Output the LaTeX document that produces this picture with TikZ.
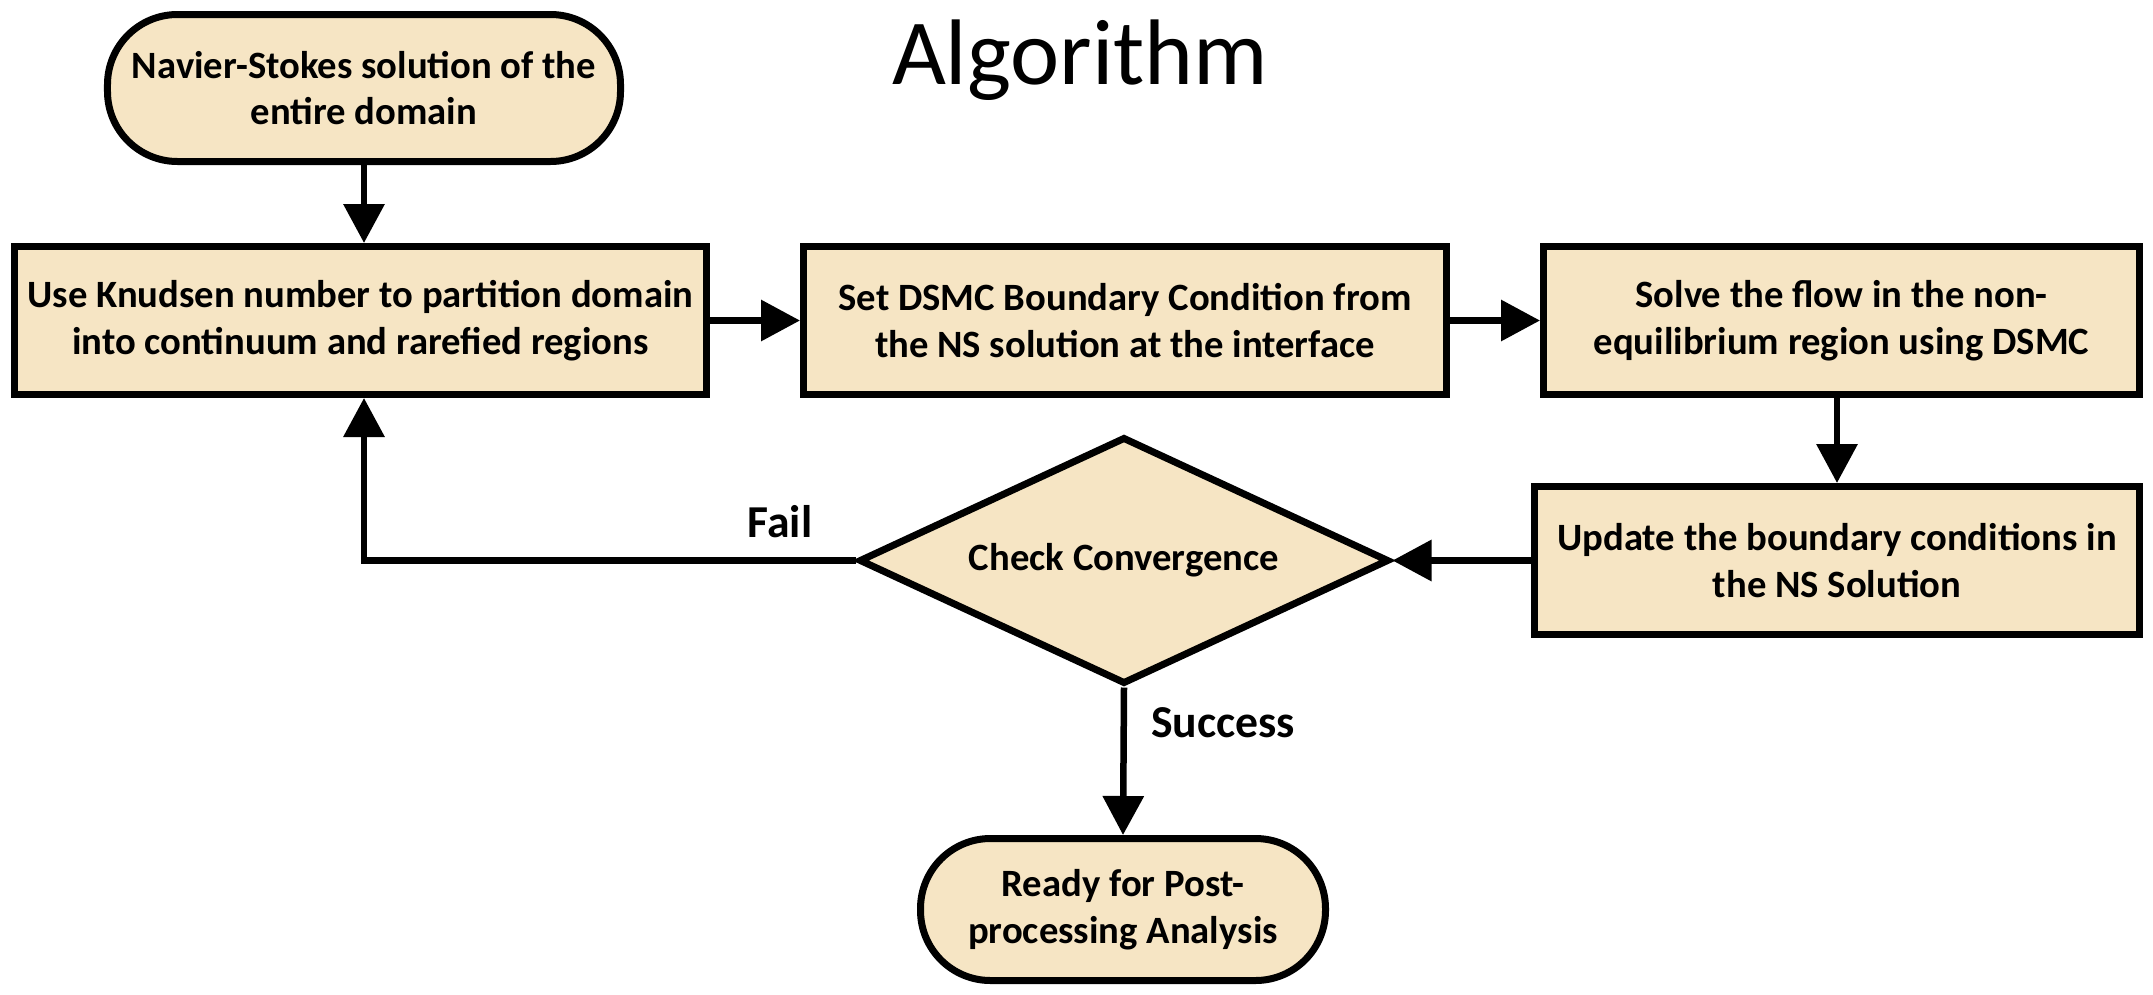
\documentclass[tikz,border=0pt]{standalone}
\usepackage{fontspec}
\setmainfont{Carlito}
\usetikzlibrary{shapes.geometric,arrows.meta,positioning}
\definecolor{bege}{RGB}{246,229,196}

\begin{document}
\begin{tikzpicture}[x=0.2mm,y=-0.2mm,
  caixa/.style={draw,line width=1.4mm,fill=bege,rectangle,minimum height=29.6mm,
    align=center,inner sep=0pt,font=\bfseries\fontsize{22}{26.5}\selectfont},
  terminal/.style={caixa,rounded corners=14mm},
  decisao/.style={caixa,diamond,aspect=2.1,minimum width=106mm,minimum height=49.4mm},
  seta/.style={-{Triangle[length=7.8mm,width=8mm]},line width=1.3mm},
  rotulo/.style={font=\bfseries\fontsize{26}{30}\selectfont}]

% Area da figura
\useasboundingbox (0,0) rectangle (2153,994);

% Titulo
\node[anchor=base,font=\fontsize{53}{60}\selectfont] (titulo) at (1080,84) {Algorithm};

% Inicio e fim
\node[terminal,minimum width=102.6mm,minimum height=29.4mm] (inicio) at (364,88)
  {Navier-Stokes solution of the\\entire domain};
\node[terminal,minimum width=81mm,minimum height=28.4mm] (fim) at (1123,909.5)
  {Ready for Post-\\processing Analysis};

% Etapas do algoritmo
\node[caixa,minimum width=138.4mm] (particao) at (360.5,320.5)
  {Use Knudsen number to partition domain\\into continuum and rarefied regions};
\node[caixa,minimum width=128.6mm] (contorno) at (1125,320.5)
  {Set DSMC Boundary Condition from\\the NS solution at the interface};
\node[caixa,minimum width=119.2mm] (dsmc) at (1841.5,320.5)
  {Solve the flow in the non-\\equilibrium region using DSMC};
\node[caixa,minimum width=121mm] (atualiza) at (1837,560.5)
  {Update the boundary conditions in\\the NS Solution};

% Teste de convergencia
\node[decisao] (teste) at (1124,560.5) {Check Convergence};

% Setas
\draw[seta] (inicio.south) -- (inicio.south |- particao.north);
\draw[seta] (particao.east) -- (contorno.west);
\draw[seta] (contorno.east) -- (dsmc.west);
\draw[seta] (atualiza.north |- dsmc.south) -- (atualiza.north);
\draw[seta] (atualiza.west) -- (teste.east);
\draw[seta] (teste.west) -| (inicio.south |- particao.south);
\draw[seta] (teste.south) -- (fim.north);

% Rotulos das saidas
\node[rotulo] (falha) at (780,522) {Fail};
\node[rotulo] (sucesso) at (1223,723) {Success};

\end{tikzpicture}
\end{document}
